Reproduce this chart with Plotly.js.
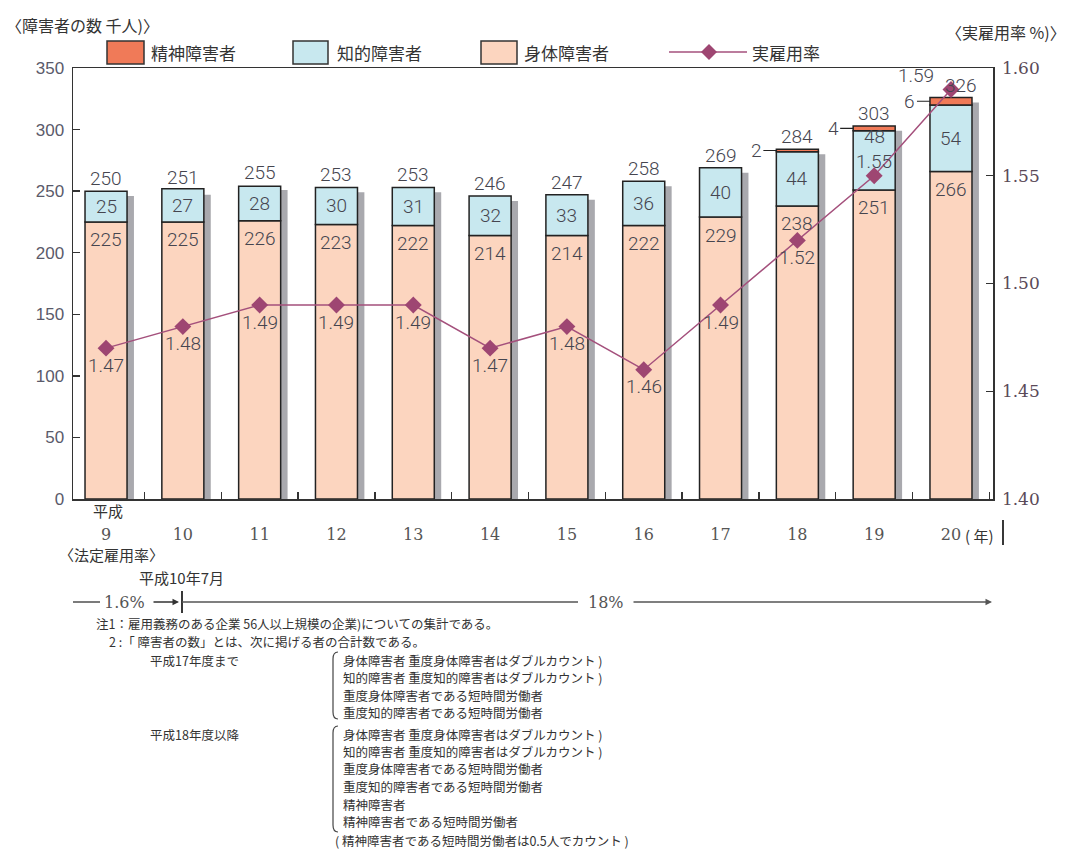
<!DOCTYPE html>
<html>
<head>
<meta charset="utf-8">
<script src="https://cdn.plot.ly/plotly-3.0.1.min.js"></script>
<style>html,body{margin:0;padding:0;background:#fff;}#chart{width:1075px;height:853px;}</style>
</head>
<body>
<div id="chart"></div>
<script>
// ---------- data ----------
const years = ['9','10','11','12','13','14','15','16','17','18','19','20'];
const bodyDisabled = [225,225,226,223,222,214,214,222,229,238,251,266];
const intellectual = [25,27,28,30,31,32,33,36,40,44,48,54];
const mentalDisabled = [0,0,0,0,0,0,0,0,0,2,4,6];
const totals = [250,251,255,253,253,246,247,258,269,284,303,326];
const rate = [1.47,1.48,1.49,1.49,1.49,1.47,1.48,1.46,1.49,1.52,1.55,1.59];
const seriesNames = ['精神障害者','知的障害者','身体障害者','実雇用率'];

// ---------- style ----------
const W = 1075, H = 853;
const L = 73, R = 993, T = 68, B = 499;
const PW = R - L, PH = B - T;
const C_MENTAL = '#F07A58', C_INTEL = '#C8E8EF', C_BODY = '#FCD5BF', C_SHADOW = '#A9A9AE';
const C_LINE = '#A4507C', C_MARK = '#9E4672';
const JP = '"Noto Sans CJK JP", "Noto Sans", sans-serif';
const NUM = 'Roboto, "Liberation Sans", sans-serif';
const SERIF = '"DejaVu Serif", "Liberation Serif", serif';
const TXT = '#45454f';
const BARW = 0.547, BAROFF = -0.2735, SHOFF = 0.09, SHDROP = 4;

const P = (px, py) => ({x: (px - L) / PW, y: (B - py) / PH});

// ---------- traces ----------
const base2 = bodyDisabled.map((v, i) => v + intellectual[i]);
const traces = [
  {type:'bar', x:years, y:totals.map(t => t - SHDROP), base:0, width:BARW, offset:BAROFF + SHOFF,
   marker:{color:C_SHADOW, line:{width:0}}, hoverinfo:'skip', showlegend:false},
  {type:'bar', name:seriesNames[2], x:years, y:bodyDisabled, base:0, width:BARW, offset:BAROFF,
   marker:{color:C_BODY, line:{color:'#222', width:1.5}}, showlegend:false},
  {type:'bar', name:seriesNames[1], x:years, y:intellectual, base:bodyDisabled, width:BARW, offset:BAROFF,
   marker:{color:C_INTEL, line:{color:'#222', width:1.5}}, showlegend:false},
  {type:'bar', name:seriesNames[0], x:years, y:mentalDisabled.map(v => v > 0 ? v : null), base:base2, width:BARW, offset:BAROFF,
   marker:{color:C_MENTAL, line:{color:'#222', width:1.5}}, showlegend:false},
  {type:'scatter', name:seriesNames[3], x:years, y:rate, yaxis:'y2', mode:'lines+markers',
   line:{color:C_LINE, width:1.5}, marker:{symbol:'diamond', size:13, color:C_MARK}, showlegend:false}
];

// ---------- annotations ----------
const ann = [];
const labelFont = {family:NUM, size:19, color:TXT, weight:300};
years.forEach((yr, i) => {
  // totals above bar
  ann.push({x:i, y:totals[i], xref:'x', yref:'y', text:String(totals[i]), showarrow:false,
            yanchor:'bottom', yshift:-1, xshift:(i === 11 ? 10 : 0), font:labelFont});
  // body value near top of body segment
  ann.push({x:i, y:bodyDisabled[i], xref:'x', yref:'y', text:String(bodyDisabled[i]), showarrow:false,
            yanchor:'middle', yshift:-18, font:labelFont});
  // intellectual value in middle (nudged up in 19 to leave room for rate label)
  const up = (i === 10) ? 24 : 0;
  ann.push({x:i, y:bodyDisabled[i] + intellectual[i] / 2, xref:'x', yref:'y', text:String(intellectual[i]),
            showarrow:false, yanchor:'middle', yshift:up, font:labelFont});
  // mental leader labels
  if (mentalDisabled[i] > 0) {
    ann.push({x:i + BAROFF, y:base2[i] + mentalDisabled[i] / 2, xref:'x', yref:'y', text:String(mentalDisabled[i]),
              showarrow:true, arrowhead:0, arrowwidth:1.2, arrowcolor:'#222', ax:-20, ay:0, font:labelFont});
  }
  // rate labels
  let rl = {x:i, y:rate[i], xref:'x', yref:'y2', text:rate[i].toFixed(2), showarrow:false,
            yanchor:'middle', yshift:-17, font:{family:NUM, size:19, color:TXT, weight:300}};
  if (i === 10) rl.yshift = 14;
  if (i === 11) { rl.yshift = 14; rl.xshift = -35; }
  ann.push(rl);
});

function txt(text, px, py, size, anchor, family, color) {
  const p = P(px, py);
  return {xref:'paper', yref:'paper', x:p.x, y:p.y, text:text, showarrow:false,
          xanchor:anchor || 'left', yanchor:'middle',
          font:{family:family || JP, size:size, color:color || '#333'}};
}
// axis titles
ann.push(txt('〈障害者の数 千人)〉', 4, 25, 16));
ann.push(txt('〈実雇用率 %)〉', 944, 32, 16));
// legend labels
ann.push(txt(seriesNames[0], 149, 52, 17));
ann.push(txt(seriesNames[1], 335, 52, 17));
ann.push(txt(seriesNames[2], 522, 52, 17));
ann.push(txt(seriesNames[3], 750, 52, 17));
// x-axis extras
ann.push(txt('平成', 108, 510, 15, 'center'));
ann.push(txt('( 年)', 963, 535, 15, 'left'));
ann.push(txt('〈法定雇用率〉', 111, 554, 15, 'center'));
ann.push(txt('平成10年7月', 181, 577, 15, 'center'));
ann.push(txt('1.6%', 124, 602, 16, 'center', SERIF, '#555'));
ann.push(txt('18%', 606, 602, 16, 'center', SERIF, '#555'));
// arrows
(function(){
  const a = P(179, 602);
  ann.push({xref:'paper', yref:'paper', x:a.x, y:a.y, ax:-27, ay:0, text:'', showarrow:true,
            arrowhead:2, arrowsize:1, arrowwidth:1.3, arrowcolor:'#333'});
  const b = P(992, 602);
  ann.push({xref:'paper', yref:'paper', x:b.x, y:b.y, ax:-360, ay:0, text:'', showarrow:true,
            arrowhead:2, arrowsize:1, arrowwidth:1.3, arrowcolor:'#555'});
})();
// notes
const NS = 12.5;
ann.push(txt('注1：雇用義務のある企業 56人以上規模の企業)についての集計である。', 94, 623, NS));
ann.push(txt('2 :「 障害者の数」とは、次に掲げる者の合計数である。', 107, 641, NS));
ann.push(txt('平成17年度まで', 148, 660, NS));
ann.push(txt('平成18年度以降', 148, 734, NS));
const list1 = ['身体障害者 重度身体障害者はダブルカウント )','知的障害者 重度知的障害者はダブルカウント )',
               '重度身体障害者である短時間労働者','重度知的障害者である短時間労働者'];
const list2 = ['身体障害者 重度身体障害者はダブルカウント )','知的障害者 重度知的障害者はダブルカウント )',
               '重度身体障害者である短時間労働者','重度知的障害者である短時間労働者','精神障害者',
               '精神障害者である短時間労働者'];
list1.forEach((s, k) => ann.push(txt(s, 341, 660 + k * 17.5, NS)));
list2.forEach((s, k) => ann.push(txt(s, 341, 734 + k * 17.5, NS)));
ann.push(txt('( 精神障害者である短時間労働者は0.5人でカウント )', 333, 840, NS));

// ---------- shapes ----------
const shapes = [];
function rectPx(x0, y0, x1, y1, fill) {
  const a = P(x0, y0), b = P(x1, y1);
  shapes.push({type:'rect', xref:'paper', yref:'paper', x0:a.x, y0:a.y, x1:b.x, y1:b.y,
               fillcolor:fill, line:{color:'#333', width:1.5}});
}
function linePx(x0, y0, x1, y1, color, w) {
  const a = P(x0, y0), b = P(x1, y1);
  shapes.push({type:'line', xref:'paper', yref:'paper', x0:a.x, y0:a.y, x1:b.x, y1:b.y,
               line:{color:color || '#333', width:w || 1.3}});
}
rectPx(107, 41, 144, 64, C_MENTAL);
rectPx(293, 41, 328, 64, C_INTEL);
rectPx(481, 41, 517, 64, C_BODY);
linePx(669, 52, 747, 52, C_LINE, 1.5);
(function(){
  const c = P(709, 52), dx = 8 / PW, dy = 8 / PH;
  shapes.push({type:'path', xref:'paper', yref:'paper',
    path:`M ${c.x - dx} ${c.y} L ${c.x} ${c.y + dy} L ${c.x + dx} ${c.y} L ${c.x} ${c.y - dy} Z`,
    fillcolor:C_MARK, line:{width:0}});
})();
linePx(1003, 520, 1003, 545, '#222', 1.8);
linePx(73, 602, 100, 602, '#333', 1.3);
linePx(182, 591, 182, 613, '#222', 1.8);
linePx(182, 602, 578, 602, '#555', 1.3);
function bracket(xL, y0, y1) {
  const a = P(xL + 5, y0), b = P(xL, y0 + 7), c = P(xL, y1 - 7), d = P(xL + 5, y1);
  shapes.push({type:'path', xref:'paper', yref:'paper',
    path:`M ${a.x} ${a.y} Q ${b.x} ${a.y} ${b.x} ${b.y} L ${c.x} ${c.y} Q ${c.x} ${d.y} ${d.x} ${d.y}`,
    line:{color:'#444', width:1.2}});
}
bracket(333, 652, 719);
bracket(333, 726, 832);

// ---------- layout ----------
const layout = {
  width:W, height:H, margin:{l:L, r:W - R, t:T, b:H - B, pad:0},
  paper_bgcolor:'#fff', plot_bgcolor:'#fff', barmode:'overlay', showlegend:false,
  xaxis:{type:'category', range:[-0.43, 11.547], tickson:'boundaries', ticks:'inside', ticklen:7,
         tickcolor:'#333', tickwidth:1.3, showline:true, linecolor:'#333', linewidth:1.5, mirror:true,
         showgrid:false, zeroline:false, ticklabelstandoff:20,
         tickfont:{family:SERIF, size:16, color:'#555'}},
  yaxis:{range:[0, 350], dtick:50, ticks:'inside', ticklen:7, tickcolor:'#333', tickwidth:1.3,
         showline:true, linecolor:'#333', linewidth:1.5, showgrid:false, zeroline:false,
         ticklabelstandoff:4, tickfont:{family:'"Liberation Sans", sans-serif', size:17, color:'#5a5a6a'}},
  yaxis2:{range:[1.40, 1.60], dtick:0.05, tickformat:'.2f', overlaying:'y', side:'right',
          ticks:'inside', ticklen:7, tickcolor:'#333', tickwidth:1.3, showline:true, linecolor:'#333',
          linewidth:1.5, showgrid:false, zeroline:false, ticklabelstandoff:4,
          tickfont:{family:SERIF, size:17, color:'#5a4a58'}},
  annotations:ann, shapes:shapes
};
Plotly.newPlot('chart', traces, layout, {staticPlot:true, displayModeBar:false});
</script>
</body>
</html>
